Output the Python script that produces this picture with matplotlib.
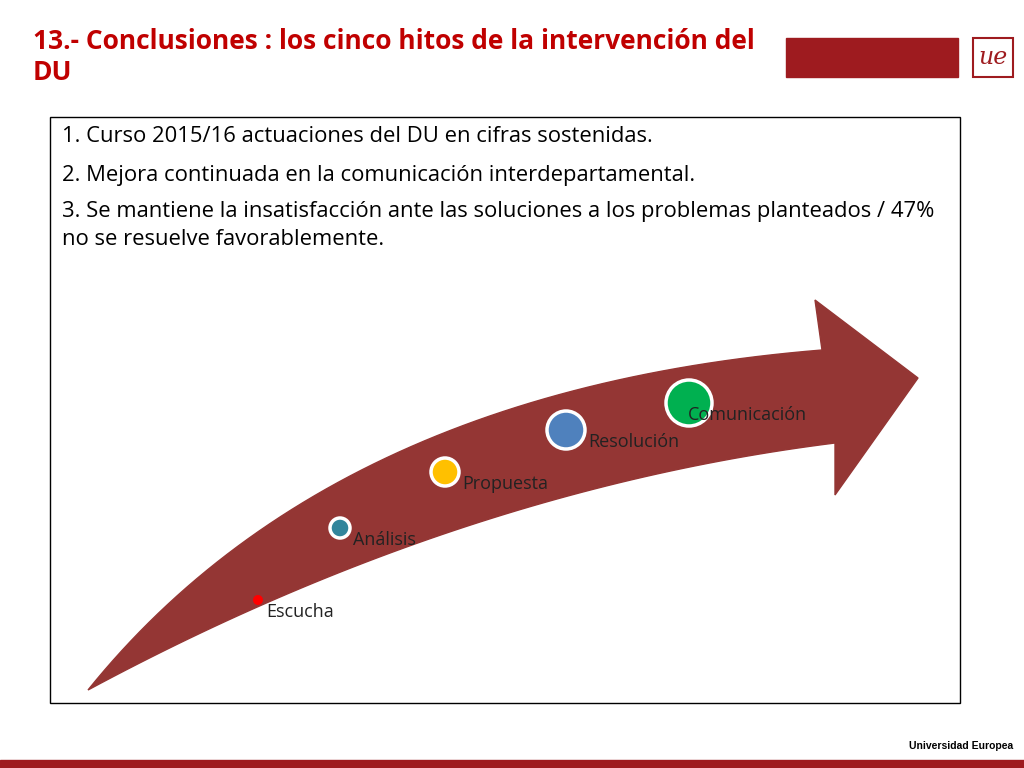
import matplotlib
matplotlib.use("Agg")
import matplotlib.pyplot as plt
import numpy as np
from matplotlib.patches import Polygon, Rectangle, Circle

title = "13.- Conclusiones : los cinco hitos de la intervención del\nDU"
bullets = ["1. Curso 2015/16 actuaciones del DU en cifras sostenidas.",
           "2. Mejora continuada en la comunicación interdepartamental.",
           "3. Se mantiene la insatisfacción ante las soluciones a los problemas planteados / 47%\nno se resuelve favorablemente."]
milestones = ["Escucha", "Análisis", "Propuesta", "Resolución", "Comunicación"]
mx = [258, 340, 445, 566, 689]
my = [600, 528, 472, 430, 403]
mr = [5, 10, 14, 19, 23]
mcol = ["#FF0000", "#31859C", "#FFC000", "#4F81BD", "#00B050"]
label_dx = [8, 13, 17, 22, -1]

fig = plt.figure(figsize=(10.24, 7.68), dpi=100)
ax = fig.add_axes([0, 0, 1, 1])
ax.set_xlim(0, 1024); ax.set_ylim(768, 0); ax.axis("off")
F = "Open Sans"
red = "#9E1B1F"

ax.text(33, 28, title, color="#C00000", fontsize=19, fontweight="bold", family=F, va="top", linespacing=1.2)
ax.add_patch(Rectangle((786, 38), 172, 39, color=red))
ax.add_patch(Rectangle((973, 38), 40, 39, facecolor="white", edgecolor=red, lw=1.5))
ax.text(993, 58, "ue", color=red, fontsize=17, style="italic", ha="center", va="center", family="DejaVu Serif")
ax.add_patch(Rectangle((0, 760), 1024, 8, color=red))
ax.text(1013, 746, "Universidad Europea", fontsize=7.5, fontweight="bold", ha="right", va="center", family="Liberation Sans")

ax.add_patch(Rectangle((50, 117), 910, 586, facecolor="white", edgecolor="black", lw=1))
ax.text(62, 137, bullets[0], fontsize=15.8, family=F, va="center")
ax.text(62, 176, bullets[1], fontsize=15.8, family=F, va="center")
ax.text(62, 201, bullets[2], fontsize=15.8, family=F, va="top", linespacing=1.45)

def bez(p0, c, p1, n=60):
    t = np.linspace(0, 1, n)[:, None]
    return (1-t)**2*np.array(p0) + 2*(1-t)*t*np.array(c) + t**2*np.array(p1)
up = bez((88, 690), (330, 390), (822, 350))
lo = bez((835, 443), (460, 490), (88, 690))
pts = np.vstack([up, [(815, 300), (918, 378), (835, 495)], lo])
ax.add_patch(Polygon(pts, closed=True, facecolor="#943634", edgecolor="#943634"))

for n, x, y, r, c, dx in zip(milestones, mx, my, mr, mcol, label_dx):
    ax.add_patch(Circle((x, y), r, facecolor=c, edgecolor="white", lw=2.5 if r > 6 else 0, zorder=3))
    ax.text(x + dx, y + 12, n, fontsize=13, family=F, va="center", zorder=4, color="#222222")

fig.savefig("out.png", dpi=100)
